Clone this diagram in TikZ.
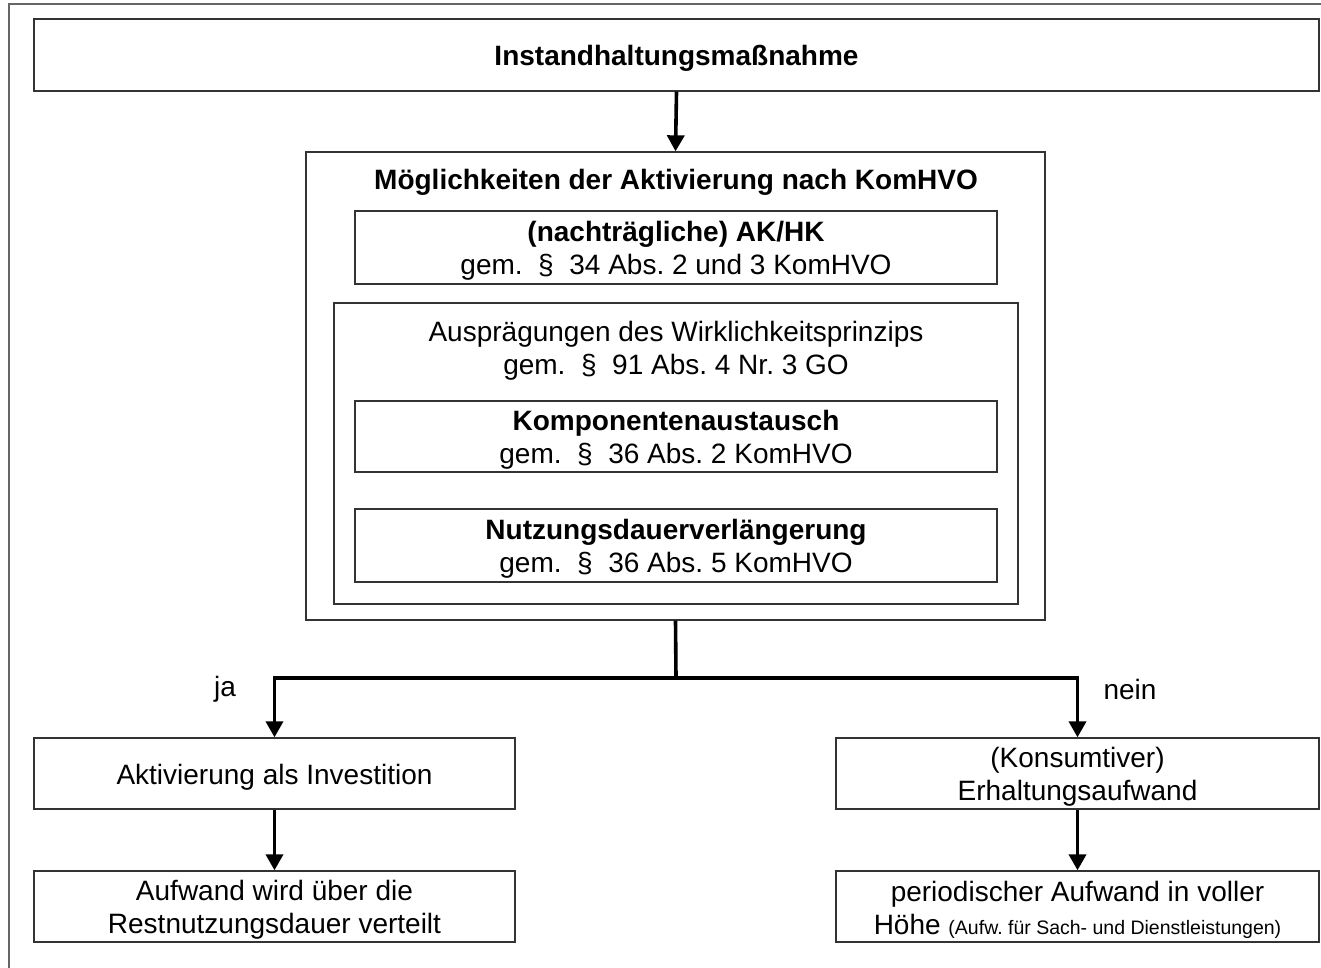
\documentclass[tikz,border=0pt]{standalone}
\usepackage{fontspec}
\setmainfont{Liberation Sans}
\usetikzlibrary{arrows.meta}
\frenchspacing
\begin{document}
\begin{tikzpicture}[x=1pt,y=-1pt,
  every node/.style={font=\fontsize{28}{33}\selectfont\frenchspacing, inner sep=0pt, align=center},
  box/.style={draw=black!80, line width=1.3pt, rectangle},
  txt/.style={yshift=-3.5pt},
  conn/.style={line width=3.6pt, black},
  arr/.style={conn, -{Triangle[width=17pt,length=16pt]}},
  hd/.style={font=\fontsize{28}{33}\selectfont\bfseries}
]
\useasboundingbox (0,0) rectangle (1321,968);
\fill[white] (0,0) rectangle (1321,968);
\draw[black!60, line width=1.5pt] (9,968) -- (9,4) -- (1321,4);

\node[box, minimum width=1285pt, minimum height=72pt] (top) at (676.5,55) {};
\node[hd, txt] (topt) at (top.center) {Instandhaltungsmaßnahme};

\node[box, minimum width=739pt, minimum height=468pt] (big) at (675.5,386) {};
\node[hd, txt] (title) at (676,179) {Möglichkeiten der Aktivierung nach KomHVO};

\node[box, minimum width=642pt, minimum height=73pt] (ak) at (676,247.5) {};
\node[txt] (akt) at (ak.center) {\bfseries (nachträgliche) AK/HK\\gem.~~§~~34 Abs. 2 und 3 KomHVO};

\node[box, minimum width=684pt, minimum height=301pt] (inner) at (676,453.5) {};
\node[txt] (aus) at (676,347.5) {Ausprägungen des Wirklichkeitsprinzips\\gem.~~§~~91 Abs. 4 Nr. 3 GO};

\node[box, minimum width=642pt, minimum height=71pt] (komp) at (676,436.5) {};
\node[txt] (kompt) at (komp.center) {\bfseries Komponentenaustausch\\gem.~~§~~36 Abs. 2 KomHVO};
\node[box, minimum width=642pt, minimum height=73pt] (nutz) at (676,545.5) {};
\node[txt] (nutzt) at (nutz.center) {\bfseries Nutzungsdauerverlängerung\\gem.~~§~~36 Abs. 5 KomHVO};

\node[box, minimum width=481pt, minimum height=71pt] (l1) at (274.5,773.5) {};
\node[txt] (l1t) at (l1.center) {Aktivierung als Investition};
\node[box, minimum width=483pt, minimum height=71pt] (r1) at (1077.5,773.5) {};
\node[txt] (r1t) at (r1.center) {(Konsumtiver)\\Erhaltungsaufwand};
\node[box, minimum width=481pt, minimum height=71pt] (l2) at (274.5,906.5) {};
\node[txt] (l2t) at (l2.center) {Aufwand wird über die\\Restnutzungsdauer verteilt};
\node[box, minimum width=483pt, minimum height=71pt] (r2) at (1077.5,906.5) {};
\node[txt] (r2t) at (r2.center) {periodischer Aufwand in voller\\Höhe {\fontsize{19.5}{20}\selectfont (Aufw. für Sach- und Dienstleistungen)}};

\coordinate (j) at (676,678);
\draw[arr] (top.south) -- (big.north);
\draw[conn] (big.south) -- (j);
\draw[arr] (j) -| (l1.north);
\draw[arr] (j) -| (r1.north);
\draw[arr] (l1.south) -- (l2.north);
\draw[arr] (r1.south) -- (r2.north);

\node[yshift=-2pt] (ja) at (225,687) {ja};
\node[yshift=-2pt] (nein) at (1130,687) {nein};
\end{tikzpicture}
\end{document}
